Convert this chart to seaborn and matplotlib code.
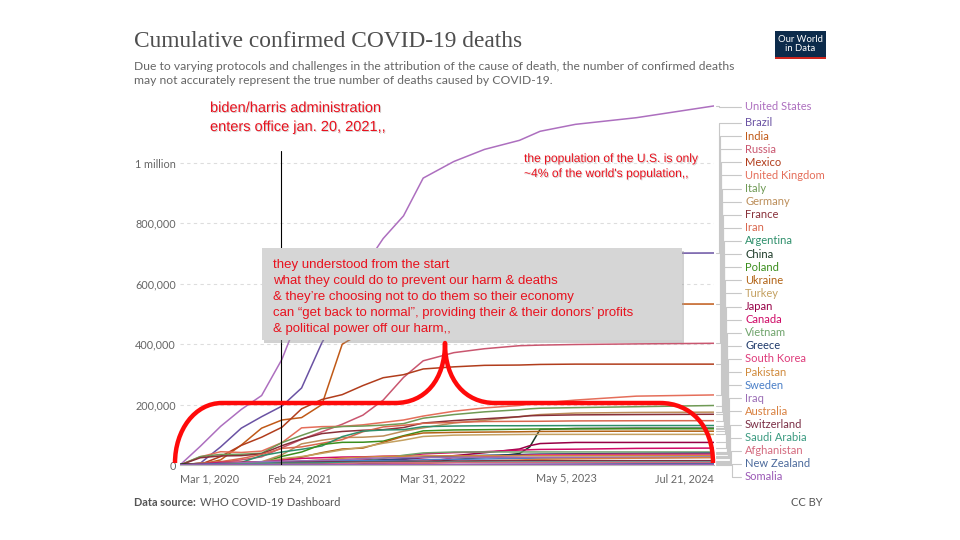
import numpy as np
import pandas as pd
import matplotlib
matplotlib.use("Agg")
import matplotlib.pyplot as plt
import matplotlib.dates as mdates
import matplotlib.patheffects as pe
from matplotlib.path import Path
from matplotlib.patches import PathPatch, Rectangle
from matplotlib.lines import Line2D
from matplotlib.transforms import Affine2D
import seaborn as sns

# data (thousands of cumulative deaths)
dates = ["2020-03-01", "2020-05-01", "2020-07-01", "2020-09-01", "2020-11-01",
         "2021-01-01", "2021-03-01", "2021-05-01", "2021-07-01", "2021-09-01",
         "2021-11-01", "2022-01-01", "2022-03-01", "2022-06-01", "2022-09-01",
         "2022-12-15", "2023-01-15", "2023-02-15", "2023-06-01", "2023-12-01",
         "2024-07-21"]

countries = ["United States", "Brazil", "India", "Russia", "Mexico", "United Kingdom",
             "Italy", "Germany", "France", "Iran", "Argentina", "China", "Poland",
             "Ukraine", "Turkey", "Japan", "Canada", "Vietnam", "Greece", "South Korea",
             "Pakistan", "Sweden", "Iraq", "Australia", "Switzerland", "Saudi Arabia",
             "Afghanistan", "New Zealand", "Somalia"]

united_states = [0, 62, 128, 184, 230, 350, 515, 575, 605, 650, 750, 825, 950, 1005, 1045, 1075, 1090, 1105, 1128, 1150, 1189]
brazil = [0, 6, 60, 122, 160, 195, 255, 405, 520, 580, 607, 619, 650, 667, 685, 691, 695, 698, 700, 701, 702]
india = [0, 1, 17, 66, 122, 149, 157, 200, 400, 440, 458, 482, 514, 524, 528, 530, 531, 531, 532, 533, 533]
russia = [0, 1, 9.5, 17, 27, 57, 85, 110, 135, 165, 215, 290, 345, 372, 385, 395, 396, 397, 399, 401, 403]
mexico = [0, 2, 28, 65, 92, 125, 186, 217, 233, 263, 289, 299, 318, 325, 330, 331, 332, 333, 334, 334, 334]
united_kingdom = [0, 27, 44, 41.5, 46, 74, 123, 127, 128, 133, 141, 149, 162, 178, 189, 197, 202, 205, 215, 228, 232]
italy = [0, 28, 35, 35.5, 39, 74, 98, 121, 127.5, 129, 132, 137, 155, 167, 176, 183, 186, 188, 190, 193, 197]
germany = [0, 6.5, 9, 9.3, 10.5, 34, 70, 82, 91, 92, 96, 112, 123, 139, 148, 160, 164, 167, 172, 174, 175]
france = [0, 24, 30, 31, 37, 64, 86, 104, 111, 115, 117, 124, 139, 147, 153, 160, 163, 164, 166, 167, 168]
iran = [0, 6, 11, 21.5, 35, 55, 60, 72, 84, 110, 126, 131.5, 138, 141, 144, 144.6, 144.7, 144.8, 146, 146.5, 146.8]
argentina = [0, 0.2, 1.3, 8.5, 31, 43, 52, 63, 94, 112, 116, 117, 127, 129, 130, 130, 130.1, 130.2, 130.5, 130.6, 130.7]
china = [2.9, 4.6, 4.6, 4.7, 4.7, 4.8, 4.8, 4.8, 5, 5.5, 5.7, 5.7, 6.5, 18, 25, 38, 60, 118, 121, 122, 122]
poland = [0, 0.6, 1.5, 2, 6, 28.5, 43, 68, 75, 75.4, 79, 97, 113, 116, 117, 118.5, 119, 119.3, 119.6, 120, 120]
ukraine = [0, 0.2, 1.2, 2.8, 7.5, 19, 26, 41, 53, 56, 75, 95, 106, 108, 109, 110, 110.5, 111, 111.5, 112, 112]
turkey = [0, 3.1, 5.2, 6.4, 10.3, 20.9, 28, 38.7, 50.1, 58.6, 72, 82.4, 94.5, 98.9, 100, 101, 101.2, 101.4, 101.4, 101.4, 101.4]
japan = [0, 0.4, 1, 1.3, 1.7, 3.4, 7.8, 10, 15, 16.2, 18.3, 18.4, 24, 30.9, 40.5, 53, 64, 71, 74.7, 74.7, 74.7]
canada = [0, 3, 8.6, 9.1, 10.1, 15.6, 21.9, 24, 26.3, 27, 29, 30.3, 36.7, 41, 44, 49.5, 50.5, 51.5, 52.4, 55, 56]
vietnam = [0, 0, 0, 0.03, 0.035, 0.035, 0.035, 0.035, 0.1, 12.3, 22, 32.4, 40, 43, 43.1, 43.2, 43.2, 43.2, 43.2, 43.2, 43.2]
greece = [0, 0.14, 0.19, 0.27, 0.6, 4.9, 6.5, 10.6, 12.7, 13.8, 16.3, 20.8, 26.6, 29.8, 31.9, 34.4, 35.5, 36.1, 37, 38, 39.2]
south_korea = [0.02, 0.25, 0.28, 0.32, 0.47, 0.92, 1.6, 1.8, 2.03, 2.3, 2.9, 5.6, 8.4, 24.3, 27.4, 31.7, 33, 33.7, 34.7, 35.8, 35.9]
pakistan = [0, 0.4, 4.7, 6.3, 6.8, 10.2, 12.9, 17.1, 22.3, 25.7, 28.4, 28.9, 30.2, 30.4, 30.6, 30.6, 30.6, 30.6, 30.6, 30.7, 30.7]
sweden = [0, 2.6, 5.3, 5.8, 5.9, 8.7, 12.9, 13.9, 14.6, 14.7, 15, 15.3, 17.3, 18.9, 19.9, 21.7, 22.4, 22.8, 23.7, 24.5, 26]
iraq = [0, 0.1, 1.8, 6.9, 11.2, 12.8, 13.5, 15.4, 17.6, 21.8, 23.4, 24.1, 25.1, 25.2, 25.3, 25.37, 25.37, 25.37, 25.37, 25.37, 25.37]
australia = [0, 0.09, 0.1, 0.66, 0.9, 0.91, 0.91, 0.91, 0.91, 1.05, 1.7, 2.24, 5.2, 8.7, 13.8, 16.5, 17.8, 18.9, 20.5, 22.5, 24.4]
switzerland = [0, 1.5, 1.7, 1.7, 2.1, 7.6, 9.3, 9.8, 10.3, 10.5, 11.1, 12, 12.8, 13.3, 13.6, 13.9, 14, 14.1, 14.2, 14.3, 14.3]
saudi_arabia = [0, 0.16, 1.7, 3.9, 5.2, 6.2, 6.5, 7, 7.9, 8.6, 8.8, 8.9, 9.0, 9.1, 9.3, 9.4, 9.5, 9.6, 9.6, 9.6, 9.6]
afghanistan = [0, 0.06, 0.8, 1.4, 1.5, 2.2, 2.4, 2.6, 4.5, 7.1, 7.3, 7.4, 7.6, 7.7, 7.8, 7.8, 7.9, 7.9, 7.9, 7.98, 8.0]
new_zealand = [0, 0.02, 0.022, 0.024, 0.025, 0.025, 0.026, 0.026, 0.026, 0.027, 0.03, 0.05, 0.06, 1.2, 1.9, 2.3, 2.4, 2.5, 2.9, 3.9, 4.3]
somalia = [0, 0.02, 0.09, 0.1, 0.1, 0.13, 0.4, 0.7, 0.78, 1.0, 1.3, 1.33, 1.35, 1.36, 1.36, 1.36, 1.36, 1.36, 1.36, 1.36, 1.36]

deaths = {
    "United States": united_states, "Brazil": brazil, "India": india, "Russia": russia,
    "Mexico": mexico, "United Kingdom": united_kingdom, "Italy": italy, "Germany": germany,
    "France": france, "Iran": iran, "Argentina": argentina, "China": china, "Poland": poland,
    "Ukraine": ukraine, "Turkey": turkey, "Japan": japan, "Canada": canada, "Vietnam": vietnam,
    "Greece": greece, "South Korea": south_korea, "Pakistan": pakistan, "Sweden": sweden,
    "Iraq": iraq, "Australia": australia, "Switzerland": switzerland,
    "Saudi Arabia": saudi_arabia, "Afghanistan": afghanistan, "New Zealand": new_zealand,
    "Somalia": somalia,
}

colors = {
    "United States": "#ad6fbf", "Brazil": "#6a52a3", "India": "#c05917", "Russia": "#c9566f",
    "Mexico": "#b13d1c", "United Kingdom": "#e56e5a", "Italy": "#6f9a55", "Germany": "#bc8e5a",
    "France": "#883039", "Iran": "#d9674e", "Argentina": "#2e8f6b", "China": "#1c3a28",
    "Poland": "#3b8e1d", "Ukraine": "#b16214", "Turkey": "#c4a060", "Japan": "#970046",
    "Canada": "#cf0a66", "Vietnam": "#6fa36b", "Greece": "#1f3a6b", "South Korea": "#de3b7a",
    "Pakistan": "#d08a3c", "Sweden": "#4a7fc7", "Iraq": "#9a6cb5", "Australia": "#d9803f",
    "Switzerland": "#7a2e45", "Saudi Arabia": "#3a9a80", "Afghanistan": "#d46a7e",
    "New Zealand": "#4c6a9c", "Somalia": "#9b59b6",
}

tick_dates = ["2020-03-01", "2021-02-24", "2022-03-31", "2023-05-05", "2024-07-21"]
tick_labels = ["Mar 1, 2020", "Feb 24, 2021", "Mar 31, 2022", "May 5, 2023", "Jul 21, 2024"]
y_ticks = [0, 200000, 400000, 600000, 800000, 1000000]
y_labels = ["0", "200,000", "400,000", "600,000", "800,000", "1 million"]

inauguration_line = "2020-12-29"
inauguration_top = 1.04e6

rows = []
for c in countries:
    for d, v in zip(dates, deaths[c]):
        rows.append((c, pd.Timestamp(d), v * 1000))
df = pd.DataFrame(rows, columns=["country", "date", "deaths"])

sns.set_style("white")
plt.rcParams["font.family"] = ["Lato", "DejaVu Sans"]

W, H = 960, 540
fig = plt.figure(figsize=(9.6, 5.4), dpi=100)
ax = fig.add_axes([180 / W, 1 - 465 / H, 534 / W, (465 - 102.6) / H])

sns.lineplot(data=df, x="date", y="deaths", hue="country", hue_order=countries,
             palette=colors, linewidth=1.1, legend=False, ax=ax)

ax.set_xlim(pd.Timestamp("2020-03-01"), pd.Timestamp("2024-07-21"))
ax.set_ylim(0, 1.2e6)
ax.set_xlabel("")
ax.set_ylabel("")
ax.set_yticks(y_ticks)
ax.set_yticklabels(y_labels)
ax.set_xticks([pd.Timestamp(d) for d in tick_dates])
ax.set_xticklabels(tick_labels)
xl = ax.get_xticklabels()
xl[0].set_ha("left")
xl[-1].set_ha("right")
ax.yaxis.grid(True, linestyle=(0, (3, 3)), color="#dddddd", linewidth=0.8)
ax.xaxis.grid(False)
for s in ["top", "right", "left"]:
    ax.spines[s].set_visible(False)
ax.spines["bottom"].set_color("#bbbbbb")
ax.tick_params(axis="x", length=4, color="#bbbbbb", labelsize=7.8, labelcolor="#666666", pad=2)
ax.tick_params(axis="y", length=0, labelsize=7.8, labelcolor="#666666", pad=3)

# vertical inauguration marker
ax.plot([pd.Timestamp(inauguration_line)] * 2, [0, inauguration_top], color="black", lw=0.8, zorder=5)

# pixel (top-left origin) -> figure transform
px = Affine2D().scale(1 / W, -1 / H).translate(0, 1) + fig.transFigure

# legend labels with connectors
label_y = [107] + [123 + i * 13.11 for i in range(len(countries) - 1)]
end_x = mdates.date2num(pd.Timestamp(dates[-1]))
for i, c in enumerate(countries):
    disp = ax.transData.transform((end_x, deaths[c][-1] * 1000))
    yd = H - disp[1]
    yl = label_y[i]
    xv = 719 + 0.45 * i
    fig.add_artist(Line2D([716, xv, xv, 741], [yd, yd, yl, yl], color="#c8c8c8",
                          lw=0.8, transform=px))
    fig.text(745 / W, 1 - yl / H, c, color=colors[c], fontsize=8, va="center", ha="left")

# header
fig.text(134 / W, 1 - 42 / H, "Cumulative confirmed COVID-19 deaths", family="Liberation Serif",
         fontsize=16.8, color="#4e4e4e", va="center", ha="left")
fig.text(134 / W, 1 - 66 / H,
         "Due to varying protocols and challenges in the attribution of the cause of death, the number of confirmed deaths",
         fontsize=8.7, color="#666666", va="center", ha="left")
fig.text(134 / W, 1 - 81 / H,
         "may not accurately represent the true number of deaths caused by COVID-19.",
         fontsize=8.7, color="#666666", va="center", ha="left")

# logo
fig.add_artist(Rectangle((775, 59), 51, -28, facecolor="#0c2b4b", edgecolor="none", transform=px))
fig.add_artist(Rectangle((775, 59), 51, -2.5, facecolor="#ce261e", edgecolor="none", transform=px))
fig.text(800.5 / W, 1 - 44 / H, "Our World\nin Data", color="white", fontsize=6.8,
         ha="center", va="center", linespacing=1.0)

# footer
fig.text(134 / W, 1 - 503 / H, "Data source:", fontsize=7.9, color="#555555",
         fontweight="bold", va="center", ha="left")
fig.text(199.5 / W, 1 - 503 / H, "WHO COVID-19 Dashboard", fontsize=8.0, color="#555555",
         va="center", ha="left")
fig.text(823 / W, 1 - 503 / H, "CC BY", fontsize=8.0, color="#555555", va="center", ha="right")

# annotations
red = "#e8121e"
shadow = [pe.withSimplePatchShadow(offset=(0.7, -0.7), shadow_rgbFace="#888888", alpha=0.35)]
fig.text(210 / W, 1 - 108 / H, "biden/harris administration", family="Liberation Sans",
         fontsize=10.5, color=red, va="center", ha="left", path_effects=shadow)
fig.text(210 / W, 1 - 127 / H, "enters office jan. 20, 2021,,", family="Liberation Sans",
         fontsize=10.5, color=red, va="center", ha="left", path_effects=shadow)
fig.text(524 / W, 1 - 159 / H, "the population of the U.S. is only", family="Liberation Sans",
         fontsize=8.7, color=red, va="center", ha="left", path_effects=shadow)
fig.text(524 / W, 1 - 174 / H, "~4% of the world's population,,", family="Liberation Sans",
         fontsize=8.7, color=red, va="center", ha="left", path_effects=shadow)

fig.add_artist(Rectangle((264, 343), 420, -92, facecolor="#9a9a9a", alpha=0.45,
                         edgecolor="none", transform=px))
fig.add_artist(Rectangle((262, 340), 420, -92, facecolor="#d6d6d6", edgecolor="none", transform=px))
box_lines = ["they understood from the start",
             "what they could do to prevent our harm & deaths",
             "& they\u2019re choosing not to do them so their economy",
             "can \u201cget back to normal\u201d, providing their & their donors\u2019 profits",
             "& political power off our harm,,"]
for j, t in enumerate(box_lines):
    fig.text(273 / W, 1 - (265 + j * 16) / H, t, family="Liberation Sans", fontsize=9.5,
             color=red, va="center", ha="left")

# big red brace
verts = [(175, 463), (175, 430), (195, 403), (222, 403),
         (395, 403),
         (425, 403), (445, 380), (445, 343),
         (445, 380), (465, 403), (495, 403),
         (660, 403),
         (690, 403), (713, 425), (713, 463)]
codes = [Path.MOVETO, Path.CURVE4, Path.CURVE4, Path.CURVE4,
         Path.LINETO,
         Path.CURVE4, Path.CURVE4, Path.CURVE4,
         Path.CURVE4, Path.CURVE4, Path.CURVE4,
         Path.LINETO,
         Path.CURVE4, Path.CURVE4, Path.CURVE4]
fig.add_artist(PathPatch(Path(verts, codes), facecolor="none", edgecolor="#ff0a0a",
                         lw=3.2, transform=px, capstyle="butt", joinstyle="round"))

fig.savefig("out.png", dpi=100)
